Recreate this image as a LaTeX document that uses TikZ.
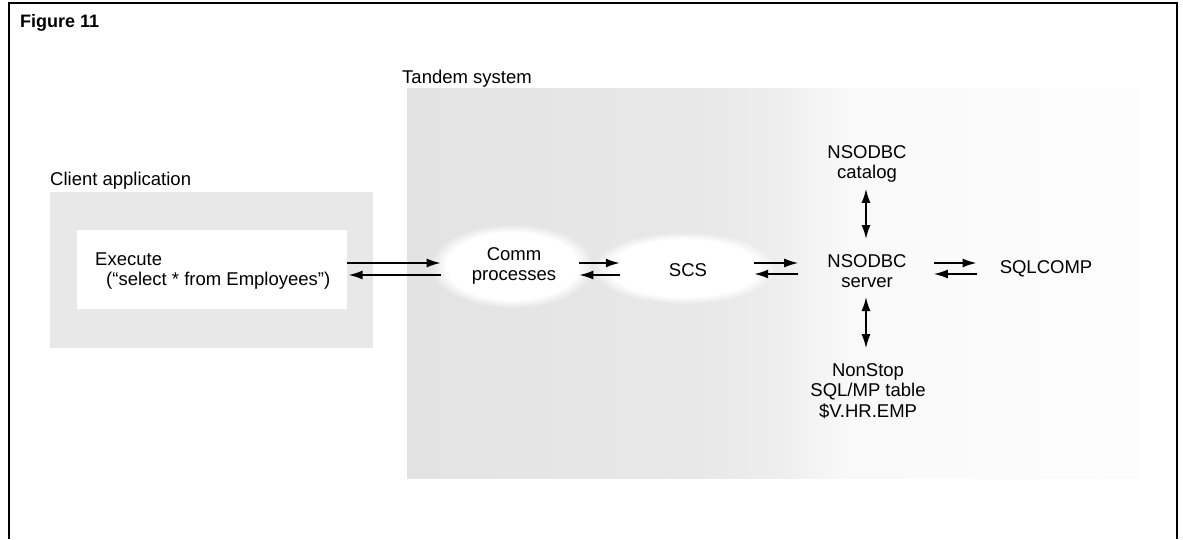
\documentclass[tikz,border=0pt]{standalone}
\usepackage{fontspec}
\setmainfont{Liberation Sans}
\usetikzlibrary{arrows.meta,fadings,calc}
\pgfdeclarehorizontalshading{tandem}{100bp}{color(0bp)=(gray!22); color(25bp)=(gray!22); color(45bp)=(gray!18); color(50bp)=(gray!14); color(55bp)=(gray!5); color(75bp)=(gray!1.5); color(100bp)=(gray!1.5)}
\tikzset{
  lbl/.style={font=\fontsize{18.5}{20.5}\selectfont, inner sep=0pt, align=center},
  ttl/.style={font=\fontsize{18.5}{20.5}\selectfont, inner sep=0pt, anchor=base west},
  arr/.style={line width=1.7pt, -{Latex[length=14pt,width=9pt]}},
  darr/.style={line width=1.7pt, {Latex[length=14pt,width=9pt]}-{Latex[length=14pt,width=9pt]}},
  blob/.style={white, path fading=circle with fuzzy edge 20 percent},
}
\begin{document}
\begin{tikzpicture}[x=1pt,y=-1pt]
\useasboundingbox (0,0) rectangle (1183,539);
% Tandem system area
\shade[shading=tandem] (407,88) rectangle (1140,478);
\fill[blob] (512,266) ellipse [x radius=82, y radius=42];
\fill[blob] (684,268) ellipse [x radius=92, y radius=36];
% client application area
\fill[gray!18] (50,192) rectangle (373,348);
\fill[white] (77,230) rectangle (347,309);
% frame
\draw[line width=1.6pt] (9,539) -- (9,3) -- (1177,3) -- (1177,539);
% titles
\node[ttl, font=\fontsize{18}{20}\selectfont\bfseries] (fig) at (20,27) {Figure 11};
\node[ttl] (tandem) at (402,83) {Tandem system};
\node[ttl] (client) at (50,185) {Client application};
% nodes
\node[lbl, anchor=west, align=left] (exec) at (95,271) {Execute\\\hspace*{11pt}(“select * from Employees”)};
\node[lbl] (comm) at (514,266) {Comm\\processes};
\node[lbl] (scs) at (688,270) {SCS};
\node[lbl] (srv) at (867,271) {NSODBC\\server};
\node[lbl] (cat) at (867,164) {NSODBC\\catalog};
\node[lbl] (sqlc) at (1046,269) {SQLCOMP};
\node[lbl] (tbl) at (868,391) {NonStop\\SQL/MP table\\\$V.HR.EMP};
% connectors
\draw[arr] ([shift={(16,-8)}]exec.east) -- ([shift={(-31,-3)}]comm.west);
\draw[arr] ([shift={(-31,9)}]comm.west) -- ([shift={(18,4)}]exec.east);
\draw[arr] ([shift={(23,-3)}]comm.east) -- ([shift={(-49,-7)}]scs.west);
\draw[arr] ([shift={(-49,5)}]scs.west) -- ([shift={(23,9)}]comm.east);
\draw[arr] ([shift={(47,-7)}]scs.east) -- ([shift={(-29,-8)}]srv.west);
\draw[arr] ([shift={(-29,3)}]srv.west) -- ([shift={(47,4)}]scs.east);
\draw[arr] ([shift={(27,-8)}]srv.east) -- ([shift={(-23,-6)}]sqlc.west);
\draw[arr] ([shift={(-23,5)}]sqlc.west) -- ([shift={(27,3)}]srv.east);
\draw[darr] ([shift={(-1,6)}]cat.south) -- ([shift={(-1,-15)}]srv.north);
\draw[darr] ([shift={(-1,9)}]srv.south) -- ([shift={(-2,-15)}]tbl.north);
\end{tikzpicture}
\end{document}
